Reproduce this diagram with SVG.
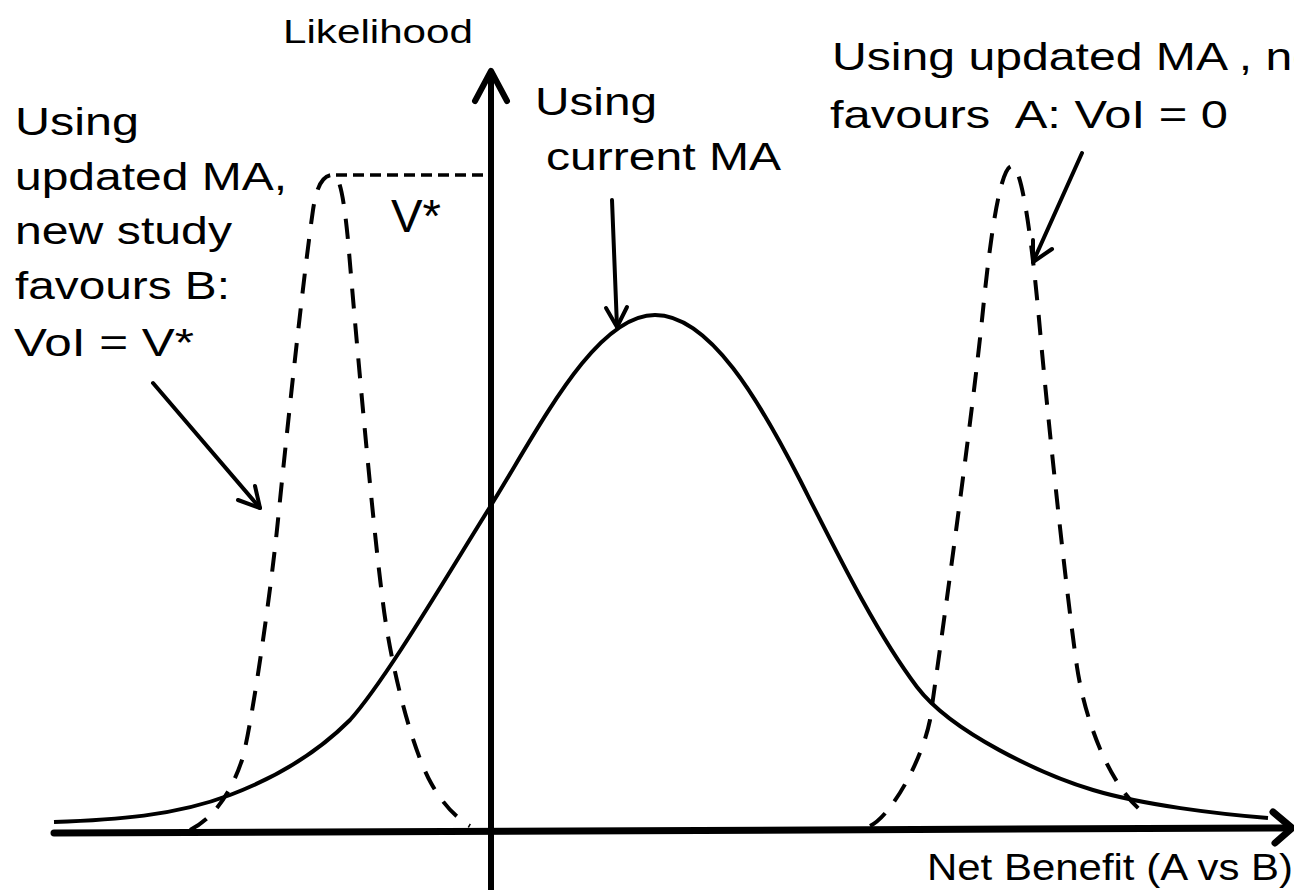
<svg xmlns="http://www.w3.org/2000/svg" width="1294" height="890" viewBox="0 0 1294 890">
  <style>
    .axis { fill: none; stroke: #000; stroke-width: 6; stroke-linecap: round; stroke-linejoin: round; }
    .curve { fill: none; stroke: #000; stroke-width: 4; }
    .dashed { fill: none; stroke: #000; stroke-width: 4; stroke-dasharray: 20 15; }
    .guide { fill: none; stroke: #000; stroke-width: 3.5; stroke-dasharray: 11 6; }
    .pointer { fill: none; stroke: #000; stroke-width: 4; stroke-linecap: round; stroke-linejoin: round; }
    .label { font-family: "Liberation Sans", Arial, sans-serif; fill: #000; }
  </style>
  <rect width="1294" height="890" fill="#fff"/>

  <!-- axes -->
  <g id="axes">
    <line class="axis" x1="491" y1="74" x2="491" y2="895"/>
    <polyline class="axis" points="475,101 491,71 507,101"/>
    <line class="axis" x1="54" y1="833" x2="1290" y2="828" stroke-linecap="butt" style="stroke-width:7"/>
    <polyline class="axis" points="1273,812 1292,828 1275,843" style="stroke-width:7"/>
  </g>

  <!-- distribution using the current meta-analysis -->
  <g id="current-ma">
    <path class="curve" d="M54,822 C114,820 175,816 230,795 C275,778 318,752 350,720 C385,681 445,579 490,507 C540,426.5 595,315 655,315 C710,315 760,402 800,480 C840,559 877,634 917,687 C952,733 1043,775 1093,790 C1143,805 1218,814 1268,818"/>
  </g>

  <!-- updated meta-analysis, new study favours B -->
  <g id="updated-favours-b">
    <path class="dashed" d="M190,830 C215,818 232,790 242,760 C250,735 270,600 278,520 C286,440 303,280 313,210 C317,183 324,175 333,175 C340,175 344,200 348,240 C353,300 372,520 383,603 C390,660 410,745 431,783 C442,803 456,818 470,826"/>
    <line class="guide" x1="336" y1="175" x2="488" y2="175"/>
  </g>

  <!-- updated meta-analysis, new study favours A -->
  <g id="updated-favours-a">
    <path class="dashed" d="M870,826 C892,815 922,760 930,720 C940,650 972,420 983,310 C990,240 1000,166 1012,166 C1022,166 1032,240 1040,330 C1048,420 1066,590 1077,667 C1085,720 1110,790 1148,816"/>
  </g>

  <!-- labels -->
  <g id="axis-labels">
    <text class="label" x="283" y="43" font-size="34" textLength="190" lengthAdjust="spacingAndGlyphs">Likelihood</text>
    <text class="label" x="927" y="880" font-size="36" textLength="366" lengthAdjust="spacingAndGlyphs">Net Benefit (A vs B)</text>
  </g>
  <g id="label-favours-b">
    <text class="label" x="15" y="135" font-size="38" textLength="124" lengthAdjust="spacingAndGlyphs">Using</text>
    <text class="label" x="15" y="190" font-size="38" textLength="272" lengthAdjust="spacingAndGlyphs">updated MA,</text>
    <text class="label" x="15" y="244" font-size="38" textLength="217" lengthAdjust="spacingAndGlyphs">new study</text>
    <text class="label" x="15" y="299" font-size="38" textLength="215" lengthAdjust="spacingAndGlyphs">favours B:</text>
    <text class="label" x="14" y="356" font-size="38" textLength="180" lengthAdjust="spacingAndGlyphs">VoI = V*</text>
  </g>
  <g id="label-current">
    <text class="label" x="535" y="115" font-size="38" textLength="122" lengthAdjust="spacingAndGlyphs">Using</text>
    <text class="label" x="546" y="170" font-size="38" textLength="235" lengthAdjust="spacingAndGlyphs">current MA</text>
  </g>
  <g id="label-favours-a">
    <text class="label" x="832" y="70" font-size="39" textLength="487" lengthAdjust="spacingAndGlyphs">Using updated MA , ne</text>
    <text class="label" x="830" y="128" font-size="39" textLength="398" lengthAdjust="spacingAndGlyphs" xml:space="preserve">favours  A: VoI = 0</text>
  </g>
  <g id="label-vstar">
    <text class="label" x="391" y="232" font-size="46" textLength="50" lengthAdjust="spacingAndGlyphs">V*</text>
  </g>

  <!-- connectors -->
  <g id="connectors">
    <line class="pointer" x1="153" y1="383" x2="260" y2="508"/>
    <polyline class="pointer" points="238,500 260,508 255,486"/>
    <line class="pointer" x1="612" y1="200" x2="617" y2="327"/>
    <polyline class="pointer" points="606,308 617,327 627,307"/>
    <line class="pointer" x1="1082" y1="153" x2="1033" y2="262"/>
    <polyline class="pointer" points="1052,249 1033,262 1033,240"/>
  </g>
</svg>
